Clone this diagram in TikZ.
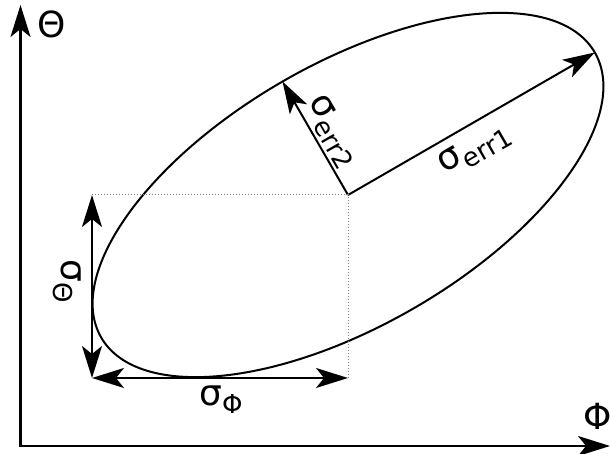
\documentclass[tikz,border=0pt]{standalone}
\usepackage{fontspec}
\setmainfont{DejaVu Sans}
\usepackage{tikz}
\usetikzlibrary{arrows.meta,calc}

\newcommand{\sigsub}[1]{{\fontsize{18}{20}\selectfont σ\raisebox{-4pt}{\fontsize{13}{14}\selectfont #1}}}

\tikzset{
	tip/.style={-{Stealth[length=16pt,width=10pt,inset=4pt]}},
	twotip/.style={{Stealth[length=16pt,width=10pt,inset=4pt]}-{Stealth[length=16pt,width=10pt,inset=4pt]}},
	guide/.style={gray,line width=0.5pt,dash pattern=on 0.5pt off 1pt},
	lbl/.style={inner sep=0pt},
}

\begin{document}
\begin{tikzpicture}[x=0.5pt,y=0.5pt,line width=1pt]
		\useasboundingbox (0,0) rectangle (611,454);
		%Axes
		\coordinate (O) at (20.5,8);
		\coordinate (ytop) at (20.5,449);
		\coordinate (xend) at (610,8);
		\draw[twotip,line width=1.1pt] (ytop)--(O)--(xend);
		\node[lbl] (thetalbl) at (52,430) {\fontsize{18}{20}\selectfont Θ};
		\node[lbl] (philbl) at (598,38) {\fontsize{18}{20}\selectfont Φ};
		%Error ellipse and its half axes
		\coordinate (c) at (348,259);
		\draw (c) ellipse[x radius=142.5pt,y radius=65.5pt,rotate=30];
		\coordinate (e1) at ($(c)+(30:142.5pt)$);
		\coordinate (e2) at ($(c)+(120:65.5pt)$);
		\draw[tip] (c)--(e1);
		\draw[tip] (c)--(e2);
		\node[lbl,rotate=30] (sigerr1) at (475,304) {\sigsub{err1}};
		\node[lbl,rotate=-60] (sigerr2) at (332,322) {\sigsub{err2}};
		%Projections on the axes
		\coordinate (tl) at (92,259);
		\coordinate (bl) at (92,76);
		\coordinate (br) at (348,76);
		\draw[guide] (tl)--(c)--(br);
		\draw[twotip] (tl)--(bl);
		\draw[twotip] (bl)--(br);
		\node[lbl] (sigphi) at (221,54) {\sigsub{Φ}};
		\node[lbl,rotate=-90] (sigtheta) at (67,173) {\sigsub{Θ}};
\end{tikzpicture}
\end{document}
